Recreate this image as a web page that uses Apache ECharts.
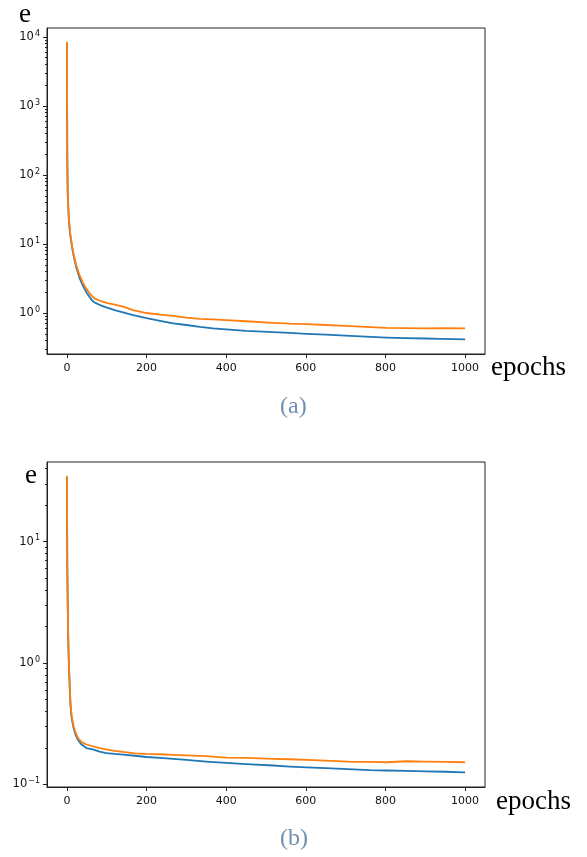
<!DOCTYPE html>
<html>
<head>
<meta charset="utf-8">
<script src="https://cdn.jsdelivr.net/npm/echarts@6/dist/echarts.min.js"></script>
<style>
  html, body { margin: 0; padding: 0; background: #fff; }
  #chart { width: 587px; height: 857px; }
</style>
</head>
<body>
<div id="chart"></div>
<script>
// values
const epochsA = [0, 1, 2, 3, 5, 8, 13, 18, 24, 32, 40, 45, 50, 57, 65, 72, 80, 90, 99, 120, 141, 166, 200, 234, 267, 300, 334, 367, 400, 450, 518, 560, 602, 650, 686, 750, 803, 850, 900, 937, 1000];
const blueA = [8000, 165, 55, 39, 22, 14, 8.9, 6.3, 4.5, 3.2, 2.5, 2.2, 1.95, 1.70, 1.48, 1.40, 1.33, 1.26, 1.21, 1.10, 1.02, 0.93, 0.84, 0.77, 0.71, 0.67, 0.63, 0.60, 0.58, 0.55, 0.53, 0.515, 0.50, 0.485, 0.475, 0.455, 0.44, 0.433, 0.427, 0.422, 0.415];
const orangeA = [8500, 170, 56, 40, 23, 14.5, 9.2, 6.6, 4.8, 3.5, 2.75, 2.45, 2.2, 1.92, 1.70, 1.60, 1.53, 1.46, 1.40, 1.32, 1.24, 1.10, 1.0, 0.95, 0.91, 0.86, 0.82, 0.81, 0.79, 0.76, 0.72, 0.70, 0.69, 0.67, 0.655, 0.63, 0.61, 0.605, 0.60, 0.605, 0.60];

const epochsB = [0, 1, 2, 3, 4, 5, 7, 9, 12, 17, 22, 28, 36, 49, 65, 82, 99, 120, 141, 170, 200, 234, 267, 300, 350, 400, 450, 518, 560, 602, 650, 719, 760, 803, 853, 900, 950, 1000];
const blueB = [34, 6, 3.1, 1.85, 1.25, 0.97, 0.63, 0.45, 0.35, 0.29, 0.255, 0.232, 0.214, 0.199, 0.194, 0.186, 0.181, 0.178, 0.176, 0.172, 0.168, 0.165, 0.162, 0.159, 0.154, 0.150, 0.147, 0.143, 0.140, 0.138, 0.136, 0.133, 0.131, 0.130, 0.129, 0.128, 0.127, 0.1256];
const orangeB = [35, 6.2, 3.2, 1.9, 1.3, 1.0, 0.65, 0.46, 0.36, 0.30, 0.265, 0.24, 0.224, 0.213, 0.206, 0.199, 0.194, 0.189, 0.185, 0.180, 0.178, 0.177, 0.175, 0.173, 0.171, 0.166, 0.165, 0.162, 0.161, 0.159, 0.157, 0.153, 0.153, 0.152, 0.155, 0.154, 0.153, 0.152];

const xTicks = [0, 200, 400, 600, 800, 1000];
const decadesA = [0, 1, 2, 3, 4];
const decadesB = [-1, 0, 1];

function minorTicks(lo, hi) {
  const out = [];
  for (let n = Math.floor(lo); n <= Math.ceil(hi); n++) {
    for (let k = 2; k <= 9; k++) {
      const v = n + Math.log10(k);
      if (v > lo && v < hi) out.push(v);
    }
  }
  return out;
}

function toLog(xs, ys) {
  return xs.map((x, i) => [x, Math.log10(ys[i])]);
}

const rangeA = [-0.594, 4.13];
const rangeB = [-1.022, 1.657];

const frame = '#222';
const txt = '#111';

function xAxis(gridIndex) {
  return {
    type: 'value', gridIndex: gridIndex, min: -50, max: 1050, position: 'bottom',
    axisLine: { show: true, onZero: false, lineStyle: { color: frame, width: 1 } },
    axisTick: { show: true, length: 4, customValues: xTicks, lineStyle: { color: frame } },
    axisLabel: { customValues: xTicks, color: txt, fontSize: 11, fontFamily: 'DejaVu Sans', margin: 9,
                 formatter: v => String(Math.round(v)) },
    splitLine: { show: false }
  };
}

function yMajor(gridIndex, range, decades) {
  return {
    type: 'value', gridIndex: gridIndex, min: range[0], max: range[1], position: 'left',
    axisLine: { show: true, onZero: false, lineStyle: { color: frame, width: 1 } },
    axisTick: { show: true, length: 4, customValues: decades, lineStyle: { color: frame } },
    axisLabel: {
      customValues: decades, margin: 7,
      formatter: v => {
        const e = Math.round(v);
        return '{b|10}{s|' + (e < 0 ? '\u2212' + (-e) : e) + '}';
      },
      rich: {
        b: { fontSize: 11.5, fontFamily: 'DejaVu Sans', color: txt },
        s: { fontSize: 8, fontFamily: 'DejaVu Sans', color: txt, padding: [0, 0, 7, 1] }
      }
    },
    splitLine: { show: false }
  };
}

function yMinor(gridIndex, range) {
  return {
    type: 'value', gridIndex: gridIndex, min: range[0], max: range[1], position: 'left',
    axisLine: { show: false, onZero: false },
    axisTick: { show: true, length: 2, customValues: minorTicks(range[0], range[1]), lineStyle: { color: frame } },
    axisLabel: { show: false },
    splitLine: { show: false }
  };
}

function line(xi, yi, data, color) {
  return {
    type: 'line', xAxisIndex: xi, yAxisIndex: yi, data: data,
    showSymbol: false, symbol: 'none',
    lineStyle: { color: color, width: 1.8, join: 'round' }
  };
}

const chart = echarts.init(document.getElementById('chart'));
chart.setOption({
  animation: false,
  backgroundColor: '#fff',
  grid: [
    { left: 47, top: 28, width: 438, height: 326, show: true, borderColor: frame, borderWidth: 1, outerBoundsMode: 'none' },
    { left: 47, top: 462, width: 438, height: 325, show: true, borderColor: frame, borderWidth: 1, outerBoundsMode: 'none' }
  ],
  xAxis: [xAxis(0), xAxis(1)],
  yAxis: [yMajor(0, rangeA, decadesA), yMinor(0, rangeA), yMajor(1, rangeB, decadesB), yMinor(1, rangeB)],
  series: [
    line(0, 0, toLog(epochsA, blueA), '#1f77b4'),
    line(0, 0, toLog(epochsA, orangeA), '#ff7f0e'),
    line(1, 2, toLog(epochsB, blueB), '#1f77b4'),
    line(1, 2, toLog(epochsB, orangeB), '#ff7f0e')
  ],
  graphic: [
    { type: 'text', left: 19, top: 1, style: { text: 'e', font: '27px "Liberation Serif"', fill: '#000' } },
    { type: 'text', left: 491, top: 354, style: { text: 'epochs', font: '27px "Liberation Serif"', fill: '#000' } },
    { type: 'text', left: 280, top: 395, style: { text: '(a)', font: '24px "Liberation Serif"', fill: '#7090b0' } },
    { type: 'text', left: 25, top: 462, style: { text: 'e', font: '27px "Liberation Serif"', fill: '#000' } },
    { type: 'text', left: 496, top: 788, style: { text: 'epochs', font: '27px "Liberation Serif"', fill: '#000' } },
    { type: 'text', left: 280, top: 827, style: { text: '(b)', font: '24px "Liberation Serif"', fill: '#7090b0' } }
  ]
});
</script>
</body>
</html>
